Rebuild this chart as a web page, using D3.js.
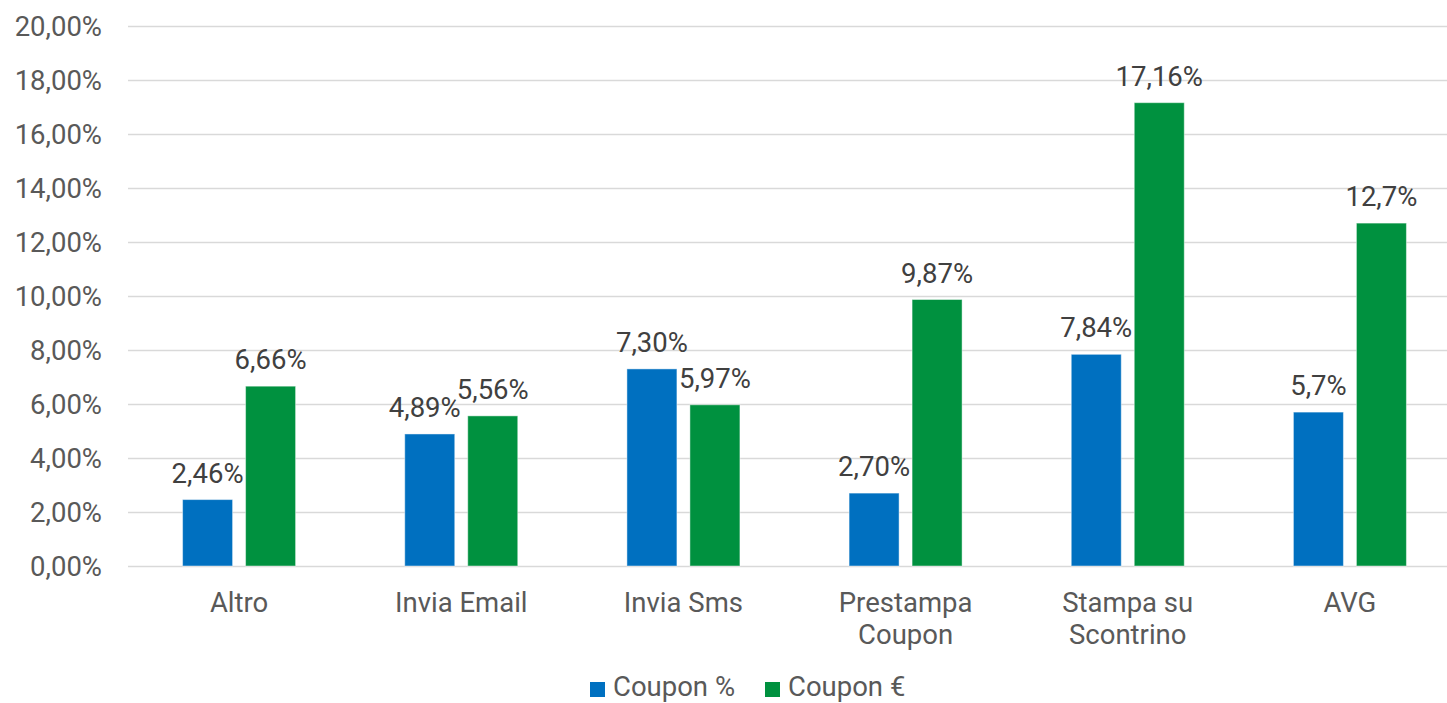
<!DOCTYPE html>
<html>
<head>
<meta charset="utf-8">
<script src="https://cdn.jsdelivr.net/npm/d3@7"></script>
<style>
  html, body { margin: 0; padding: 0; background: #fff; }
  svg { display: block; font-family: Roboto, "Noto Sans", sans-serif; }
</style>
</head>
<body>
<svg id="chart" width="1447" height="703"></svg>
<script>
// Categories and series
const categories = [["Altro"], ["Invia Email"], ["Invia Sms"], ["Prestampa", "Coupon"], ["Stampa su", "Scontrino"], ["AVG"]];
const seriesNames = ["Coupon %", "Coupon €"];
const couponPct = [2.46, 4.89, 7.30, 2.70, 7.84, 5.7];
const couponEur = [6.66, 5.56, 5.97, 9.87, 17.16, 12.7];
const couponPctLabels = ["2,46%", "4,89%", "7,30%", "2,70%", "7,84%", "5,7%"];
const couponEurLabels = ["6,66%", "5,56%", "5,97%", "9,87%", "17,16%", "12,7%"];
const yTicks = [0, 2, 4, 6, 8, 10, 12, 14, 16, 18, 20];

const colors = ["#0070c0", "#00913f"];
const textColor = "#595959";
const fontSize = "27.5px";

const svg = d3.select("#chart");
const W = 1447, H = 703;
const plot = { left: 128, right: 1461, top: 26, bottom: 566 };

const x = d3.scaleBand()
  .domain(d3.range(categories.length))
  .range([plot.left, plot.right])
  .paddingInner(0).paddingOuter(0);

const y = d3.scaleLinear().domain([0, 20]).range([plot.bottom, plot.top]);

const fmt = v => d3.format(".2f")(v).replace(".", ",") + "%";

// gridlines
svg.append("g")
  .selectAll("line")
  .data(yTicks)
  .join("line")
  .attr("x1", plot.left).attr("x2", W)
  .attr("y1", d => Math.round(y(d)) + 0.5).attr("y2", d => Math.round(y(d)) + 0.5)
  .attr("stroke", "#d9d9d9").attr("stroke-width", 1.3);

// y axis labels
const yAxis = d3.axisLeft(y).tickValues(yTicks).tickFormat(fmt).tickSize(0).tickPadding(26);
const yg = svg.append("g").attr("transform", `translate(${plot.left},0)`).call(yAxis);
yg.select(".domain").remove();
yg.selectAll("text").attr("fill", textColor).attr("dy", "0.35em")
  .style("font-size", fontSize).style("font-family", "Roboto");

// bars and value labels
const barW = 50, gap = 13;
const series = [couponPct, couponEur];
const labels = [couponPctLabels, couponEurLabels];
series.forEach((vals, si) => {
  const offset = si === 0 ? -(gap / 2 + barW) : gap / 2;
  const g = svg.append("g");
  g.selectAll("rect")
    .data(vals)
    .join("rect")
    .attr("x", (d, i) => x(i) + x.bandwidth() / 2 + offset)
    .attr("width", barW)
    .attr("y", d => y(d))
    .attr("height", d => y(0) - y(d))
    .attr("fill", colors[si])
    .attr("stroke", "rgba(255,255,255,0.45)")
    .attr("stroke-width", 1);
  g.selectAll("text")
    .data(vals)
    .join("text")
    .attr("x", (d, i) => x(i) + x.bandwidth() / 2 + offset + barW / 2 - (si === 0 && i === 1 ? 5 : 0))
    .attr("y", d => y(d) - 17)
    .attr("text-anchor", "middle")
    .attr("fill", "#404040")
    .style("font-size", fontSize)
    .text((d, i) => labels[si][i]);
});

// category labels
const cat = svg.append("g");
categories.forEach((lines, i) => {
  const cx = x(i) + x.bandwidth() / 2;
  const t = cat.append("text")
    .attr("text-anchor", "middle")
    .attr("fill", textColor)
    .style("font-size", fontSize)
    .attr("x", cx)
    .attr("y", 612);
  lines.forEach((ln, j) => {
    t.append("tspan").attr("x", cx).attr("dy", j === 0 ? 0 : 32).text(ln);
  });
});

// legend
const legend = svg.append("g");
const legendItems = [{ x: 590, name: seriesNames[0], c: colors[0] }, { x: 765, name: seriesNames[1], c: colors[1] }];
legendItems.forEach(it => {
  legend.append("rect").attr("x", it.x).attr("y", 682).attr("width", 15).attr("height", 15).attr("fill", it.c);
  legend.append("text").attr("x", it.x + 23).attr("y", 696)
    .attr("fill", textColor).style("font-size", fontSize).text(it.name);
});
</script>
</body>
</html>
